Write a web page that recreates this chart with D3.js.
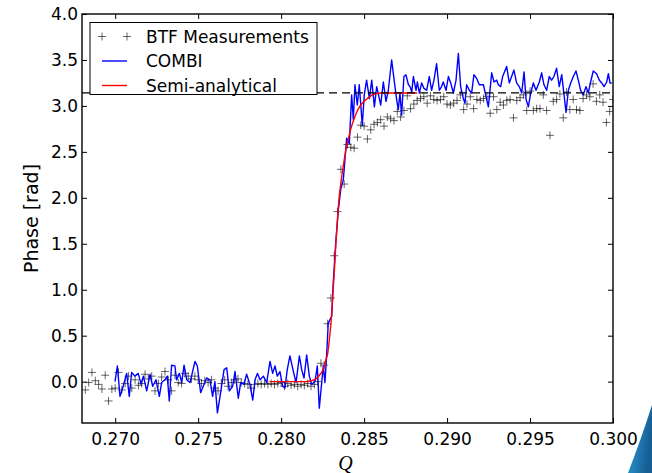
<!DOCTYPE html>
<html>
<head>
<meta charset="utf-8">
<script src="https://cdn.jsdelivr.net/npm/d3@7"></script>
<style>
  html, body { margin: 0; padding: 0; background: #fff; }
  svg { display: block; }
  text { font-family: "DejaVu Sans", sans-serif; }
</style>
</head>
<body>
<svg id="chart" width="652" height="473"></svg>
<script>
// BTF measured phase response
const btfQ = [
  0.2682,0.2684,0.2686,0.2688,0.2690,0.2692,0.2694,0.2696,0.2698,0.2700,
  0.2702,0.2704,0.2706,0.2708,0.2710,0.2712,0.2714,0.2716,0.2718,0.2720,
  0.2722,0.2724,0.2726,0.2728,0.2730,0.2732,0.2734,0.2736,0.2738,0.2740,
  0.2742,0.2744,0.2746,0.2748,0.2750,0.2752,0.2754,0.2756,0.2758,0.2760,
  0.2762,0.2764,0.2766,0.2768,0.2770,0.2772,0.2774,0.2776,0.2778,0.2780,
  0.2782,0.2784,0.2786,0.2788,0.2790,0.2792,0.2794,0.2796,0.2798,0.2800,
  0.2802,0.2804,0.2806,0.2808,0.2810,0.2812,0.2814,0.2816,0.2818,0.2820,
  0.2822,0.2824,0.2826,0.2828,0.2830,0.2832,0.2834,0.2836,0.2838,0.2840,
  0.2842,0.2844,0.2846,0.2848,0.2850,0.2852,0.2854,0.2856,0.2858,0.2860,
  0.2862,0.2864,0.2866,0.2868,0.2870,0.2872,0.2874,0.2876,0.2878,0.2880,
  0.2882,0.2884,0.2886,0.2888,0.2890,0.2892,0.2894,0.2896,0.2898,0.2900,
  0.2902,0.2904,0.2906,0.2908,0.2910,0.2912,0.2914,0.2916,0.2918,0.2920,
  0.2922,0.2924,0.2926,0.2928,0.2930,0.2932,0.2934,0.2936,0.2938,0.2940,
  0.2942,0.2944,0.2946,0.2948,0.2950,0.2952,0.2954,0.2956,0.2958,0.2960,
  0.2962,0.2964,0.2966,0.2968,0.2970,0.2972,0.2974,0.2976,0.2978,0.2980,
  0.2982,0.2984,0.2986,0.2988,0.2990,0.2992,0.2994,0.2996,0.2998,0.3000
];
const btfPhase = [
  -0.09,-0.01,0.10,0.01,-0.03,-0.08,0.07,-0.21,-0.08,-0.07,
  0.10,-0.09,-0.02,0.06,-0.07,0.02,-0.04,-0.02,0.08,0.03,
  0.06,-0.10,-0.02,0.05,0.11,0.02,-0.10,0.07,-0.01,-0.02,
  0.09,0.06,0.03,0.06,0.02,-0.02,0.01,-0.01,0.02,-0.07,
  -0.10,-0.02,0.02,-0.05,-0.01,0.02,0.03,-0.01,-0.02,-0.03,
  -0.07,-0.03,-0.02,-0.03,-0.02,-0.03,-0.02,-0.03,-0.02,-0.01,
  -0.05,-0.02,-0.04,-0.03,-0.05,-0.03,-0.04,-0.02,-0.05,-0.03,
  0.00,0.20,0.18,0.63,0.91,1.37,1.85,2.31,2.15,2.58,
  2.55,2.54,2.66,2.79,2.78,2.64,2.74,2.80,2.82,2.85,
  2.78,2.88,2.86,2.84,2.94,2.88,2.95,3.11,2.97,3.02,
  3.06,3.08,3.10,3.03,3.11,3.07,3.06,3.07,3.10,3.02,
  3.01,3.03,3.06,3.12,2.96,3.02,3.10,2.97,3.07,3.06,
  3.08,3.10,2.92,3.10,2.96,3.04,3.01,3.06,3.07,2.87,
  3.06,3.09,3.12,2.95,3.16,2.95,2.97,2.97,3.12,2.95,
  2.68,3.05,3.07,3.13,2.87,3.15,2.96,3.07,2.96,2.95,
  3.08,3.12,3.10,3.24,3.05,3.12,3.04,2.82,2.94,3.07
];

// COMBI simulation
const combiQ = [
  0.26999,0.27013,0.27029,0.27045,0.27069,0.27085,0.27099,0.27119,0.27139,0.27156,
  0.27170,0.27190,0.27210,0.27226,0.27246,0.27266,0.27280,0.27300,0.27314,0.27326,
  0.27340,0.27360,0.27370,0.27387,0.27401,0.27415,0.27431,0.27451,0.27481,0.27495,
  0.27515,0.27535,0.27551,0.27571,0.27587,0.27601,0.27616,0.27632,0.27656,0.27672,
  0.27688,0.27708,0.27722,0.27742,0.27756,0.27776,0.27792,0.27812,0.27829,0.27843,
  0.27857,0.27873,0.27893,0.27913,0.27933,0.27949,0.27963,0.27977,0.27993,0.28009,
  0.28023,0.28037,0.28053,0.28074,0.28090,0.28110,0.28124,0.28138,0.28154,0.28170,
  0.28184,0.28204,0.28218,0.28230,0.28254,0.28264,0.28275,0.28284,0.28305,0.28314,
  0.28329,0.28345,0.28359,0.28375,0.28395,0.28411,0.28425,0.28435,0.28445,0.28459,
  0.28471,0.28489,0.28501,0.28515,0.28532,0.28546,0.28562,0.28576,0.28592,0.28600,
  0.28616,0.28632,0.28646,0.28666,0.28686,0.28696,0.28706,0.28716,0.28726,0.28740,
  0.28752,0.28767,0.28777,0.28787,0.28797,0.28813,0.28821,0.28833,0.28847,0.28861,
  0.28877,0.28893,0.28907,0.28921,0.28937,0.28953,0.28967,0.28977,0.28994,0.29008,
  0.29022,0.29038,0.29054,0.29068,0.29082,0.29098,0.29108,0.29118,0.29134,0.29148,
  0.29162,0.29178,0.29194,0.29219,0.29249,0.29269,0.29283,0.29299,0.29309,0.29323,
  0.29335,0.29359,0.29375,0.29389,0.29403,0.29419,0.29435,0.29450,0.29464,0.29476,
  0.29490,0.29504,0.29520,0.29536,0.29556,0.29570,0.29584,0.29600,0.29616,0.29630,
  0.29644,0.29660,0.29676,0.29691,0.29705,0.29717,0.29731,0.29745,0.29761,0.29777,
  0.29791,0.29805,0.29821,0.29837,0.29851,0.29865,0.29881,0.29901,0.29918,0.29932,
  0.29946,0.29962,0.29972,0.29982,0.29992
];
const combiPhase = [
  0.00,0.17,-0.16,-0.07,0.09,-0.16,0.10,0.06,0.09,-0.03,
  0.06,-0.10,0.08,-0.05,0.02,-0.16,-0.01,0.02,0.06,-0.21,
  0.18,0.17,0.02,0.09,-0.01,0.18,0.02,-0.01,0.22,0.17,
  -0.12,-0.03,0.04,0.02,-0.16,0.00,-0.34,-0.16,0.13,0.15,
  -0.10,-0.05,0.11,-0.18,-0.01,-0.03,0.08,-0.03,-0.20,0.02,
  0.09,0.02,0.06,-0.01,0.22,0.09,0.17,0.06,0.11,-0.05,
  -0.07,0.13,0.28,0.11,-0.01,0.28,0.13,0.04,0.29,0.06,
  -0.03,0.00,0.17,-0.29,0.17,-0.01,0.31,0.64,0.71,1.07,
  1.51,1.87,2.09,2.20,2.65,2.59,3.12,2.85,3.23,3.01,
  3.23,2.79,3.12,3.28,3.08,3.28,2.99,3.21,3.08,3.01,
  3.26,3.05,3.17,3.50,3.21,3.07,2.96,3.14,2.90,3.32,
  3.34,3.23,3.21,3.15,3.32,3.17,3.26,3.14,3.25,3.19,
  3.17,3.32,3.17,3.28,3.46,3.17,3.21,3.26,3.17,3.32,
  3.25,3.14,3.28,3.57,3.21,3.08,3.03,3.23,3.17,3.14,
  3.34,3.30,3.23,3.23,2.99,3.36,3.26,3.28,3.23,3.21,
  3.32,3.43,3.25,3.32,3.39,3.25,3.21,3.14,3.37,3.07,
  2.99,3.14,3.25,3.17,3.26,3.36,3.23,3.17,3.32,3.28,
  3.32,3.41,3.21,3.34,3.12,2.93,3.17,3.25,3.32,3.38,
  3.28,3.17,3.12,3.21,3.14,3.26,3.38,3.35,3.28,3.25,
  3.21,3.26,3.35,3.25,3.25
];

// Semi-analytical model
const semiQ = [
  0.2793,0.2800,0.2805,0.2810,0.2815,0.2818,0.2821,0.2823,0.2825,0.2826,
  0.2827,0.2828,0.2829,0.2830,0.2831,0.2832,0.2833,0.2834,0.2835,0.2836,
  0.2837,0.2838,0.2839,0.2840,0.2842,0.2844,0.2846,0.2848,0.2850,0.2852,
  0.2855,0.2860,0.2870,0.2882
];
const semiPhase = [
  0.00,0.00,0.00,0.00,0.00,0.01,0.03,0.07,0.12,0.17,
  0.24,0.30,0.45,0.63,0.90,1.18,1.50,1.78,2.01,2.16,
  2.29,2.41,2.52,2.60,2.75,2.86,2.95,3.01,3.05,3.08,
  3.12,3.14,3.14,3.14
];

// Reference level at pi
const piLevel = 3.14159;

const xTicks = [0.270, 0.275, 0.280, 0.285, 0.290, 0.295, 0.300];
const yTicks = [0.0, 0.5, 1.0, 1.5, 2.0, 2.5, 3.0, 3.5, 4.0];

const legendLabels = ["BTF Measurements", "COMBI", "Semi-analytical"];

const svg = d3.select("#chart");
const W = 652, H = 473;
const L = 82, R = 613, T = 14, B = 423;

const x = d3.scaleLinear().domain([0.268, 0.300]).range([L, R]);
const y = d3.scaleLinear().domain([-0.45, 4.0]).range([B, T]);

// decorative wedge in the lower right corner
const defs = svg.append("defs");
const grad = defs.append("linearGradient").attr("id", "wedge")
  .attr("x1", "0").attr("y1", "0").attr("x2", "1").attr("y2", "0.3");
grad.append("stop").attr("offset", "0").attr("stop-color", "#8fd3f2");
grad.append("stop").attr("offset", "0.25").attr("stop-color", "#2a8fc9");
grad.append("stop").attr("offset", "1").attr("stop-color", "#155d93");
svg.append("path")
  .attr("d", "M628,473 C636,452 644,430 652,405 L652,473 Z")
  .attr("fill", "url(#wedge)");

const plot = svg.append("g");
plot.append("clipPath").attr("id", "clip")
  .append("rect").attr("x", L).attr("y", T).attr("width", R - L).attr("height", B - T);
const inner = plot.append("g").attr("clip-path", "url(#clip)");

// BTF markers
const btf = btfQ.map((q, i) => [q, btfPhase[i]]);
const plusPath = s => `M${-s},0H${s}M0,${-s}V${s}`;
inner.append("g")
  .selectAll("path")
  .data(btf)
  .join("path")
  .attr("transform", d => `translate(${x(d[0])},${y(d[1])})`)
  .attr("d", plusPath(4))
  .attr("stroke", "#000")
  .attr("stroke-opacity", 0.6)
  .attr("stroke-width", 1)
  .attr("fill", "none");

// COMBI line
const combi = combiQ.map((q, i) => [q, combiPhase[i]]);
inner.append("path")
  .datum(combi)
  .attr("d", d3.line().x(d => x(d[0])).y(d => y(d[1])))
  .attr("fill", "none")
  .attr("stroke", "#0000ff")
  .attr("stroke-width", 1.4)
  .attr("stroke-linejoin", "round");

// semi-analytical curve
const semi = semiQ.map((q, i) => [q, semiPhase[i]]);
inner.append("path")
  .datum(semi)
  .attr("d", d3.line().curve(d3.curveMonotoneX).x(d => x(d[0])).y(d => y(d[1])))
  .attr("fill", "none")
  .attr("stroke", "#ff0000")
  .attr("stroke-width", 1.4);

// pi reference
inner.append("line")
  .attr("x1", x(0.268)).attr("x2", x(0.300))
  .attr("y1", y(piLevel)).attr("y2", y(piLevel))
  .attr("stroke", "#000")
  .attr("stroke-width", 1.4)
  .attr("stroke-dasharray", "8,5");

// axes with inward ticks
const tickLen = 5;
const fmtX = d3.format(".3f"), fmtY = d3.format(".1f");
const axB = svg.append("g").attr("transform", `translate(0,${B})`)
  .call(d3.axisBottom(x).tickValues(xTicks).tickFormat(fmtX)
    .tickSizeInner(-tickLen).tickSizeOuter(0).tickPadding(10));
const axT = svg.append("g").attr("transform", `translate(0,${T})`)
  .call(d3.axisTop(x).tickValues(xTicks).tickFormat("")
    .tickSizeInner(-tickLen).tickSizeOuter(0));
const axL = svg.append("g").attr("transform", `translate(${L},0)`)
  .call(d3.axisLeft(y).tickValues(yTicks).tickFormat(fmtY)
    .tickSizeInner(-tickLen).tickSizeOuter(0).tickPadding(4));
const axR = svg.append("g").attr("transform", `translate(${R},0)`)
  .call(d3.axisRight(y).tickValues(yTicks).tickFormat("")
    .tickSizeInner(-tickLen).tickSizeOuter(0));
[axB, axT, axL, axR].forEach(a => {
  a.select(".domain").remove();
  a.selectAll(".tick line").attr("stroke", "#000").attr("stroke-width", 1);
  a.selectAll(".tick text").attr("fill", "#000")
    .style("font-family", "'DejaVu Sans', sans-serif").style("font-size", "17px");
});

// frame
svg.append("rect")
  .attr("x", L).attr("y", T).attr("width", R - L).attr("height", B - T)
  .attr("fill", "none").attr("stroke", "#000").attr("stroke-width", 1.4);

// axis titles
svg.append("text")
  .attr("transform", `translate(38,${(T + B) / 2}) rotate(-90)`)
  .attr("text-anchor", "middle")
  .style("font-size", "19px")
  .text("Phase [rad]");
svg.append("text")
  .attr("x", (L + R) / 2 - 2).attr("y", 470)
  .attr("text-anchor", "middle")
  .style("font-family", "'Liberation Serif', 'DejaVu Serif', serif")
  .style("font-style", "italic")
  .style("font-size", "20px")
  .text("Q");

// legend
const lg = svg.append("g");
lg.append("rect")
  .attr("x", 90).attr("y", 22.5).attr("width", 227).attr("height", 72)
  .attr("fill", "#fff").attr("stroke", "#000").attr("stroke-width", 1);
const rowY = [36.5, 61, 85.5];
legendLabels.forEach((lab, i) => {
  const cy = rowY[i];
  if (i === 0) {
    [102, 127].forEach(px => {
      lg.append("path").attr("transform", `translate(${px},${cy})`)
        .attr("d", plusPath(4)).attr("stroke", "#000").attr("stroke-opacity", 0.6)
        .attr("stroke-width", 1).attr("fill", "none");
    });
  } else {
    lg.append("line").attr("x1", 102).attr("x2", 127).attr("y1", cy).attr("y2", cy)
      .attr("stroke", i === 1 ? "#0000ff" : "#ff0000").attr("stroke-width", 1.4);
  }
  lg.append("text").attr("x", 146).attr("y", cy + 6.2)
    .style("font-size", "17px").text(lab);
});
</script>
</body>
</html>
